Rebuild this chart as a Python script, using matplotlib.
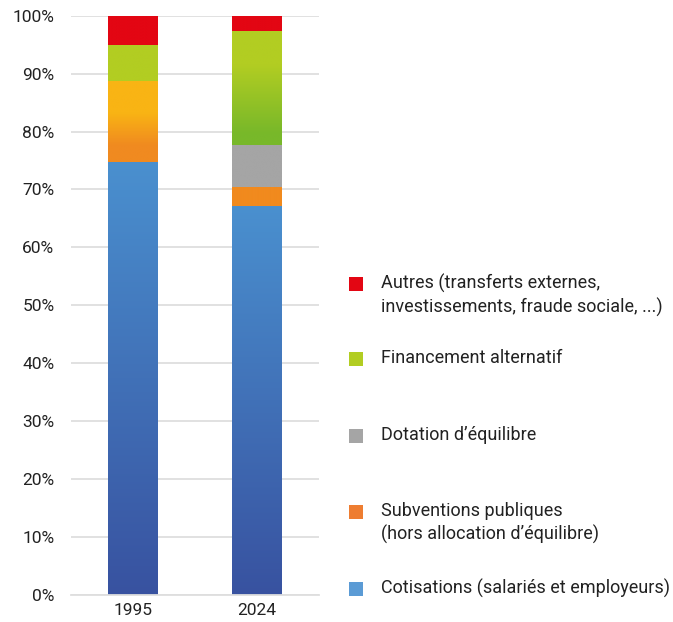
import numpy as np
import matplotlib
matplotlib.use("Agg")
import matplotlib.pyplot as plt
from matplotlib.colors import to_rgb
from matplotlib.patches import Rectangle

plt.rcParams['font.family'] = ['Roboto', 'DejaVu Sans']

#%% donnees (% du financement)
years = ['1995', '2024']
cotisations = [74.8, 67.1]
subventions = [14.0, 3.3]
dotation = [0.0, 7.2]
alternatif = [6.1, 19.8]
autres = [5.1, 2.6]

labels = ['Cotisations (salariés et employeurs)',
          'Subventions publiques\n(hors allocation d’équilibre)',
          'Dotation d’équilibre',
          'Financement alternatif',
          'Autres (transferts externes,\ninvestissements, fraude sociale, ...)']
series = [cotisations, subventions, dotation, alternatif, autres]

legend_colors = ['#5b9bd5', '#ee7d31', '#a5a5a5', '#b2cd22', '#e30613']

# degrades par barre : liste de (position depuis le haut, couleur)
grad = [
    [[(0, '#4a90cf'), (1, '#3852a0')], [(0, '#4a90cf'), (1, '#3852a0')]],
    [[(0, '#f9b414'), (0.4, '#f9b414'), (0.8, '#f08a20'), (1, '#f08a20')], [(0, '#f18a1e'), (1, '#f18a1e')]],
    [[(0, '#a5a5a5'), (1, '#a5a5a5')], [(0, '#a5a5a5'), (1, '#a5a5a5')]],
    [[(0, '#b2cd22'), (1, '#b2cd22')], [(0, '#b2cd22'), (0.3, '#b2cd22'), (0.9, '#78b82a'), (1, '#78b82a')]],
    [[(0, '#e30613'), (1, '#e30613')], [(0, '#e30613'), (1, '#e30613')]],
]


def gradient_img(stops, n=200):
    pos = np.array([s[0] for s in stops])
    cols = np.array([to_rgb(s[1]) for s in stops])
    t = np.linspace(0, 1, n)
    img = np.stack([np.interp(t, pos, cols[:, k]) for k in range(3)], axis=1)
    return img[:, None, :]


W, H = 673, 622
fig = plt.figure(figsize=(W / 100, H / 100), dpi=100)
ax = fig.add_axes([71 / W, 1 - 595 / H, (319 - 71) / W, (595 - 15.7) / H])

x = np.arange(len(years))
bottom = np.zeros(len(years))
for i, vals in enumerate(series):
    bars = ax.bar(x, vals, width=0.4, bottom=bottom, color='none', linewidth=0, zorder=2)
    for j, b in enumerate(bars):
        if vals[j] <= 0:
            continue
        x0, y0 = b.get_x(), b.get_y()
        im = ax.imshow(gradient_img(grad[i][j]), extent=(x0, x0 + b.get_width(), y0, y0 + b.get_height()),
                       aspect='auto', origin='upper', zorder=2, interpolation='bilinear')
        im.set_clip_path(b)
    bottom += np.array(vals)

ax.set_xlim(-0.5, 1.5)
ax.set_ylim(0, 100)
ax.set_yticks(np.arange(0, 101, 10))
ax.set_yticklabels([f'{v}%' for v in range(0, 101, 10)])
ax.set_xticks(x)
ax.set_xticklabels(years)
ax.yaxis.grid(True, color='#dedede', linewidth=1.3, zorder=0)
ax.set_axisbelow(True)
for s in ['top', 'right', 'left']:
    ax.spines[s].set_visible(False)
ax.spines['bottom'].set_color('#dedede')
ax.spines['bottom'].set_linewidth(1.3)
ax.tick_params(axis='y', length=0, pad=12, labelsize=12.5, labelcolor='#222222')
ax.tick_params(axis='x', length=0, pad=6, labelsize=12.5, labelcolor='#222222')

#%% legende manuelle
leg_y = [589, 512, 436, 359, 284]
for k in range(len(labels)):
    yc = leg_y[k]
    fig.patches.append(Rectangle((349 / W, 1 - (yc + 7) / H), 14 / W, 14 / H,
                                 transform=fig.transFigure, facecolor=legend_colors[k],
                                 edgecolor='none'))
    fig.text(381 / W, 1 - (yc - 10) / H, labels[k], fontsize=13, color='#222222',
             va='top', ha='left', linespacing=1.3)

fig.savefig('out.png', dpi=100)
